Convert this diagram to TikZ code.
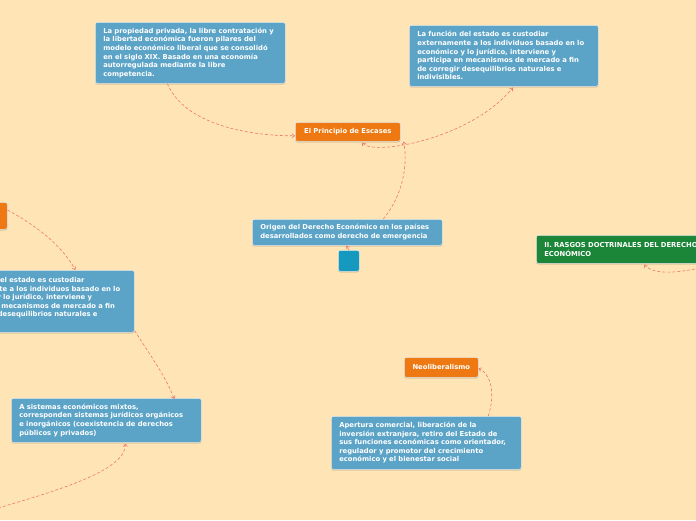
\documentclass[tikz,border=0pt]{standalone}
\usepackage{fontspec}
\setmainfont{DejaVu Sans}
\usetikzlibrary{arrows.meta,shadows}
\definecolor{bg}{RGB}{255,229,182}
\definecolor{bluebox}{RGB}{92,164,199}
\definecolor{orangebox}{RGB}{238,121,18}
\definecolor{greenbox}{RGB}{27,134,55}
\definecolor{tealbox}{RGB}{22,153,190}
\definecolor{conn}{RGB}{240,118,108}
\tikzset{
  box/.style={rectangle, rounded corners=2pt, draw=white!85!gray, line width=0.6pt,
    text=white, font=\fontsize{6.8}{8.6}\selectfont\bfseries, align=left,
    anchor=north west, inner xsep=8pt, inner ysep=0pt,
    drop shadow={shadow xshift=0pt, shadow yshift=-1pt, opacity=0.25, fill=black}},
  bluebox/.style={box, fill=bluebox},
  orangebox/.style={box, fill=orangebox, align=center},
  greenbox/.style={box, fill=greenbox},
  link/.style={draw=conn, dashed, dash pattern=on 3pt off 2pt, line width=0.6pt},
  tip/.style={-{Straight Barb[length=2.5pt,width=4pt]}},
}
\begin{document}
\begin{tikzpicture}[x=1pt,y=-1pt]
\fill[bg] (0,0) rectangle (696,520);
\useasboundingbox (0,0) rectangle (696,520);
\clip (0,0) rectangle (696,520);

\node[bluebox, text width=174pt, minimum height=61pt] (tl) at (95,22)
 {La propiedad privada, la libre contratación y\\la libertad económica fueron pilares del\\modelo económico liberal que se consolidó\\en el siglo XIX. Basado en una economía\\autorregulada mediante la libre\\competencia.};
\node[bluebox, text width=173pt, minimum height=61pt] (tr) at (409,25)
 {La función del estado es custodiar\\externamente a los individuos basado en lo\\económico y lo jurídico, interviene y\\participa en mecanismos de mercado a fin\\de corregir desequilibrios naturales e\\indivisibles.};
\node[orangebox, minimum width=105pt, minimum height=19pt] (ep) at (295,122) {El Principio de Escases};
\node[bluebox, text width=174pt, minimum height=26pt] (orig) at (252,219)
 {Origen del Derecho Económico en los países\\desarrollados como derecho de emergencia};
\node[box, fill=tealbox, minimum width=21pt, minimum height=21pt, inner xsep=0pt] (sq) at (338,250) {};
\node[box, fill=orangebox, minimum width=70pt, minimum height=27pt] (lo) at (-63,202) {};
\node[bluebox, text width=173pt, minimum height=62pt] (lb) at (-55,270)
 {La función del estado es custodiar\\externamente a los individuos basado en lo\\económico y lo jurídico, interviene y\\participa en mecanismos de mercado a fin\\de corregir desequilibrios naturales e\\indivisibles.};
\node[greenbox, text width=174pt, minimum height=28pt] (gr) at (536,235)
 {II. RASGOS DOCTRINALES DEL DERECHO\\ECONÓMICO};
\node[orangebox, minimum width=74pt, minimum height=20pt] (neo) at (404,357) {Neoliberalismo};
\node[bluebox, text width=174pt, minimum height=53pt] (ap) at (331,416)
 {Apertura comercial, liberación de la\\inversión extranjera, retiro del Estado de\\sus funciones económicas como orientador,\\regulador y promotor del crecimiento\\económico y el bienestar social};
\node[bluebox, text width=174pt, minimum height=44pt] (as) at (11,398)
 {A sistemas económicos mixtos,\\corresponden sistemas jurídicos orgánicos\\e inorgánicos (coexistencia de derechos\\públicos y privados)};
\coordinate (off1) at (-2,508);
\coordinate (off2) at (700,268);

% connectors
\draw[link, tip] ([xshift=-23pt]tl.south) .. controls (185,125) and (250,136) .. ([yshift=-4pt]ep.west);
\draw[link, tip] ([xshift=36pt]orig.north) .. controls (403,195) and (408,165) .. ([xshift=3pt]ep.south east);
\draw[link, {Straight Barb[length=2.5pt,width=4pt]}-{Straight Barb[length=2.5pt,width=4pt]}]
  ([xshift=14.5pt,yshift=-1pt]ep.south) .. controls (372,156) and (470,140) .. ([xshift=9pt,yshift=-1pt]tr.south);
\draw[link, tip] (sq.north) -- ([xshift=-1pt]orig.south);
\draw[link, tip] ([yshift=-8pt]lo.north east) .. controls (35,225) and (62,245) .. ([xshift=35.5pt]lb.north);
\draw[link, tip] ([yshift=2pt]lb.south east) .. controls (150,355) and (165,375) .. ([xshift=68pt,yshift=-1pt]as.north);
\draw[link, tip] (off1) .. controls (60,490) and (126,470) .. ([xshift=19pt,yshift=-1pt]as.south);
\draw[link, tip] ([xshift=62pt]ap.north) .. controls (495,395) and (492,375) .. ([yshift=-1pt]neo.east);
\draw[link, tip] (off2) .. controls (680,272) and (655,276) .. ([xshift=108pt,yshift=-1pt]gr.south west);
\end{tikzpicture}
\end{document}
